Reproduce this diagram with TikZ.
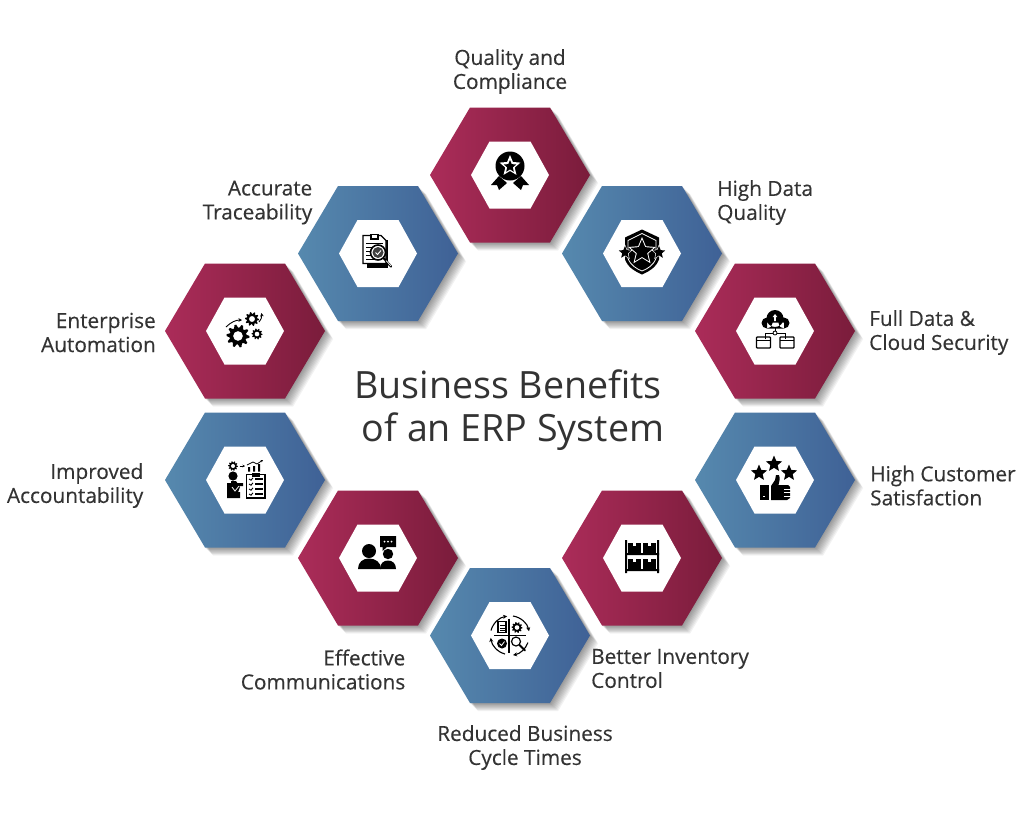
\documentclass[tikz,border=0pt]{standalone}
\usepackage{fontspec}
\usetikzlibrary{arrows.meta}
\setmainfont{Open Sans}
\newfontfamily\medf[FakeBold=0.3]{Open Sans}
\definecolor{ink}{HTML}{333333}
\definecolor{crimL}{HTML}{AB2C59}
\definecolor{crimR}{HTML}{7A1C3B}
\definecolor{bluL}{HTML}{5689AE}
\definecolor{bluR}{HTML}{3F6196}
\tikzset{
  lab/.style={text=ink,font=\medf\fontsize{20.8}{24}\selectfont,inner sep=0pt},
  labL/.style={lab,align=left,anchor=west},
  labR/.style={lab,align=right,anchor=east},
  labC/.style={lab,align=center,anchor=center},
  ttl/.style={text=ink,font=\fontsize{37.6}{43}\selectfont,align=center,inner sep=0pt,anchor=center},
  wl/.style={line width=.8pt,draw=white}
}
\newcommand{\hexpath}{(-80,0)--(-40,-67.5)--(40,-67.5)--(80,0)--(40,67.5)--(-40,67.5)--cycle}
\newcommand{\hexa}[5]{% name x y left right
  \coordinate (#1) at (#2,#3);
  \begin{scope}[shift={(#1)}]
    \foreach \i in {1,...,9}{\fill[black,opacity=.05] [shift={(\i*.9,\i*.9)}] \hexpath;}
    \shade[left color=#4,right color=#5] \hexpath;
    \fill[white] (-39,0)--(-20.5,-33.5)--(20.5,-33.5)--(39,0)--(20.5,33.5)--(-20.5,33.5)--cycle;
  \end{scope}}
\newcommand{\starp}[4][black]{\fill[#1] plot[samples at={0,...,9}] ({#2+(mod(\x,2)==0?#4:#4*.45)*sin(\x*36)},{#3-(mod(\x,2)==0?#4:#4*.45)*cos(\x*36)}) -- cycle;}
\newcommand{\gearp}[3]{%
  \fill[black] plot[samples at={0,...,39}] ({#1+(mod(\x,4)<2?#3:#3*.74)*cos(\x*9)},{#2+(mod(\x,4)<2?#3:#3*.74)*sin(\x*9)}) -- cycle;
  \fill[white] (#1,#2) circle ({#3*.42});}
\begin{document}
\begin{tikzpicture}[x=1pt,y=-1pt]
\useasboundingbox (0,0) rectangle (1024,812);
\fill[white] (0,0) rectangle (1024,812);
\hexa{hQual}{510}{175}{crimL}{crimR}
\hexa{hData}{642}{253.5}{bluL}{bluR}
\hexa{hTrac}{378}{253.5}{bluL}{bluR}
\hexa{hSecu}{775}{331}{crimL}{crimR}
\hexa{hAuto}{245}{331}{crimL}{crimR}
\hexa{hCust}{775}{480}{bluL}{bluR}
\hexa{hAcco}{245}{480}{bluL}{bluR}
\hexa{hInve}{642}{558}{crimL}{crimR}
\hexa{hComm}{378}{558}{crimL}{crimR}
\hexa{hCycl}{510}{635.5}{bluL}{bluR}

% award
\begin{scope}[shift={(hQual)}]
  \fill (0,-9) circle (14.5);
  \starp[white]{0}{-9}{11}
  \starp{0}{-8.5}{6.5}
  \fill (-19,10)--(-11,1)--(-3,8)--(-11,15)--(-13,10)--cycle;
  \fill (19,10)--(11,1)--(3,8)--(11,15)--(13,10)--cycle;
\end{scope}
% shield
\begin{scope}[shift={(hData)}]
  \fill (0,-24)--(17,-16)--(17,6)..controls (14,14) and (7,18) ..(0,21)..controls (-7,18) and (-14,14) ..(-17,6)--(-17,-16)--cycle;
  \draw[wl] (0,-20)--(14,-13)--(14,5)..controls (11,12) and (6,15) ..(0,17.5)..controls (-6,15) and (-11,12) ..(-14,5)--(-14,-13)--cycle;
  \starp[white]{0}{-2}{14.5}
  \starp{0}{-2}{12}
  \starp[white]{-17}{-1}{8}
  \starp[white]{17}{-1}{8}
  \starp{-17}{-1}{6.5}
  \starp{17}{-1}{6.5}
\end{scope}
% document + magnifier
\begin{scope}[shift={(hTrac)}]
  \fill (-11,-14) rectangle (10,14);
  \fill[white,draw=black,line width=1.2pt] (-15,-18)--(3,-18)--(8,-13)--(8,10)--(-15,10)--cycle;
  \fill (-8,-20) rectangle (1,-14);
  \fill[white] (-6,-18.5) rectangle (-1,-15.5);
  \foreach \yy in {-6,-2,2,6}{\draw[line width=1.2pt] (-12,\yy)--(-4,\yy);}
  \draw[line width=1.2pt] (-12,-10)--(5,-10);
  \fill[white,draw=black,line width=1.6pt] (0,-1) circle (7.5);
  \fill[black!75] (0,-1) circle (5.5);
  \draw[white,line width=.9pt] (-2.5,-1)--(-.5,1)--(3,-3);
  \draw[line width=2.2pt,line cap=round] (6,5)--(13,13);
  \draw[white,line width=.7pt] (8,7)--(13,12.5);
\end{scope}
% gears
\begin{scope}[shift={(hAuto)}]
  \gearp{-7}{5}{11.5}
  \gearp{7}{-12}{7}
  \gearp{12}{3}{5.5}
  \draw[line width=.9pt,-{Stealth[length=3.5pt,width=3.5pt]}] (-19,-4) .. controls (-14,-9) and (-9,-11) .. (-3,-11);
  \draw[line width=.9pt,-{Stealth[length=3.5pt,width=3.5pt]}] (14,-9) .. controls (16,-11) and (17,-14) .. (16.5,-18);
\end{scope}
% cloud + folders
\begin{scope}[shift={(hSecu)}]
  \fill (-8,-8) circle (5.5) (0,-12.5) circle (8.5) (9,-8) circle (5.5) (-8,-8.5) rectangle (9,-2.5);
  \fill[white] (0,-17)--(-2.3,-14)--(-.8,-14)--(-.8,-10)--(.8,-10)--(.8,-14)--(2.3,-14)--cycle;
  \draw[line width=.9pt] (0,-3)--(0,2) (-10,8)--(-10,2)--(10,2)--(10,8);
  \fill[white,draw=black,line width=.8pt] (0,2) circle (2);
  \foreach \xx in {-18.5,5}{
    \draw[line width=1.2pt,rounded corners=.8pt] (\xx,6)--(\xx+14,6)--(\xx+14,17)--(\xx,17)--cycle;
    \draw[line width=1.2pt] (\xx,9.5)--(\xx+14,9.5);
  }
\end{scope}
% thumb + stars
\begin{scope}[shift={(hCust)}]
  \starp{-1}{-16}{8.5}
  \starp{-16}{-7}{8.5}
  \starp{14}{-7}{8.5}
  \fill (-15,4.5) rectangle (-6,20);
  \fill[white] (-12,15.5) rectangle (-10.5,17);
  \fill (-4,6)--(0,0)--(1,-5)--(4,-5)..controls (5.5,-1) and (4,2) .. (3.5,5)--(13,5)--(15,7)--(15,18)--(12,20)--(-4,20)--cycle;
  \foreach \yy in {9,12.5,16}{\draw[white,line width=.7pt] (9,\yy)--(15.5,\yy);}
\end{scope}
% accountability
\begin{scope}[shift={(hAcco)}]
  \gearp{-12}{-14}{4.8}
  \draw[line width=.8pt,-{Stealth[length=2.5pt,width=2.5pt]}] (-5.5,-14)--(0,-14);
  \fill (3,-13) rectangle (5,-8.5) (8,-14) rectangle (10,-8.5) (13,-16) rectangle (15,-8.5);
  \draw[line width=.8pt,-{Stealth[length=2.5pt,width=2.5pt]}] (2,-15)--(8,-18)--(12,-16)--(18,-20);
  \fill (-12,-4) circle (4.6);
  \fill (-18,3) rectangle (-2,6) (-18,3) rectangle (-13,18) (-18,12) rectangle (-5,18);
  \fill (-14,1) -- (-9,1) -- (-5,7) -- (-8,15) -- (-14,15) -- cycle;
  \draw[wl] (-13,7)--(-10,11)--(-6,6);
  \draw[fill=white,line width=1.1pt] (1.5,-5.5) rectangle (20,18);
  \fill (6.5,-7.5) rectangle (15,-3.5);
  \foreach \yy in {-1,4,9,14}{
    \draw[line width=.9pt] (4,\yy)--(6,\yy+1.2)--(8,\yy-1.2);
    \draw[line width=1.2pt] (10,\yy)--(18,\yy);
  }
\end{scope}
% people
\begin{scope}[shift={(hComm)}]
  \fill (2,-22) rectangle (18,-11) (4.5,-11)--(4.5,-7)--(9,-11)--cycle;
  \fill[white] (6.5,-16.5) circle (1) (10,-16.5) circle (1) (13.5,-16.5) circle (1);
  \fill (-9,-7) circle (7);
  \fill (10,-4) circle (5.2);
  \fill (2,11)..controls (2,5) and (6,2.5) ..(10,2.5)..controls (14,2.5) and (18,5) .. (18,11)--cycle;
  \fill[white] (-21,12) rectangle (4,13);
  \fill (-20,11)..controls (-20,4) and (-15,.5) ..(-9,.5)..controls (-3,.5) and (3,4) .. (3,11)--cycle;
\end{scope}
% shelves
\begin{scope}[shift={(hInve)}]
  \fill (-17,-18) rectangle (-15,15) (15,-18) rectangle (17,15);
  \fill (-17,-5) rectangle (17,-3) (-17,11) rectangle (17,13);
  \foreach \xx in {-14,1}{
    \foreach \yy in {-15.5,.5}{
      \fill (\xx,\yy) rectangle (\xx+13,\yy+10.5);
      \fill[white] (\xx+5,\yy) rectangle (\xx+8,\yy+3);
    }
  }
\end{scope}
% cycle
\begin{scope}[shift={(hCycl)}]
  \draw[line width=1.2pt] (-16,0)--(16,0) (-1,-17)--(-1,17);
  \draw[line width=1.1pt,-{Stealth[length=4pt,width=4pt]}] (-19,-5) arc (195:262:19.5);
  \draw[line width=1.1pt,-{Stealth[length=4pt,width=4pt]}] (3,-19.5) arc (-81:-12:19.5);
  \draw[line width=1.1pt,-{Stealth[length=4pt,width=4pt]}] (18,7) arc (20:80:19.5);
  \draw[line width=1.1pt,-{Stealth[length=4pt,width=4pt]}] (-5,18.5) arc (105:172:19.5);
  \draw[fill=white,line width=1.1pt] (-12,-14) rectangle (-4,-3);
  \foreach \yy in {-10,-7.5,-5}{\draw[line width=.9pt] (-10,\yy)--(-5,\yy);}
  \gearp{7}{-8}{5.5}
  \fill (-8,8) circle (5);
  \draw[white,line width=.8pt] (-10.5,8)--(-8.5,10)--(-5.5,6);
  \draw[line width=1.2pt] (6,6) circle (4.5);
  \draw[line width=1.8pt,line cap=round] (9.5,9.5)--(15,15);
\end{scope}

\node[labC] (tQual) at (510,71.5) {Quality and\\Compliance};
\node[labL] (tData) at (717,202.5) {High Data\\Quality};
\node[labR] (tTrac) at (312.5,202.5) {Accurate\\Traceability};
\node[labL] (tSecu) at (869,332.5) {Full Data \&\\Cloud Security};
\node[labR] (tAuto) at (156,332.5) {Enterprise\\Automation};
\node[labL] (tCust) at (870,485.5) {High Customer\\Satisfaction};
\node[labR] (tAcco) at (143.5,485.5) {Improved\\Accountability};
\node[labR] (tComm) at (405.5,669.5) {Effective\\Communications};
\node[labL] (tInve) at (591,668.5) {Better Inventory\\Control};
\node[labC] (tCycl) at (525,747.5) {Reduced Business\\Cycle Times};
\node[ttl] (title) at (508,410.5) {Business Benefits\\\hspace*{10pt}of an ERP System};
\end{tikzpicture}
\end{document}
